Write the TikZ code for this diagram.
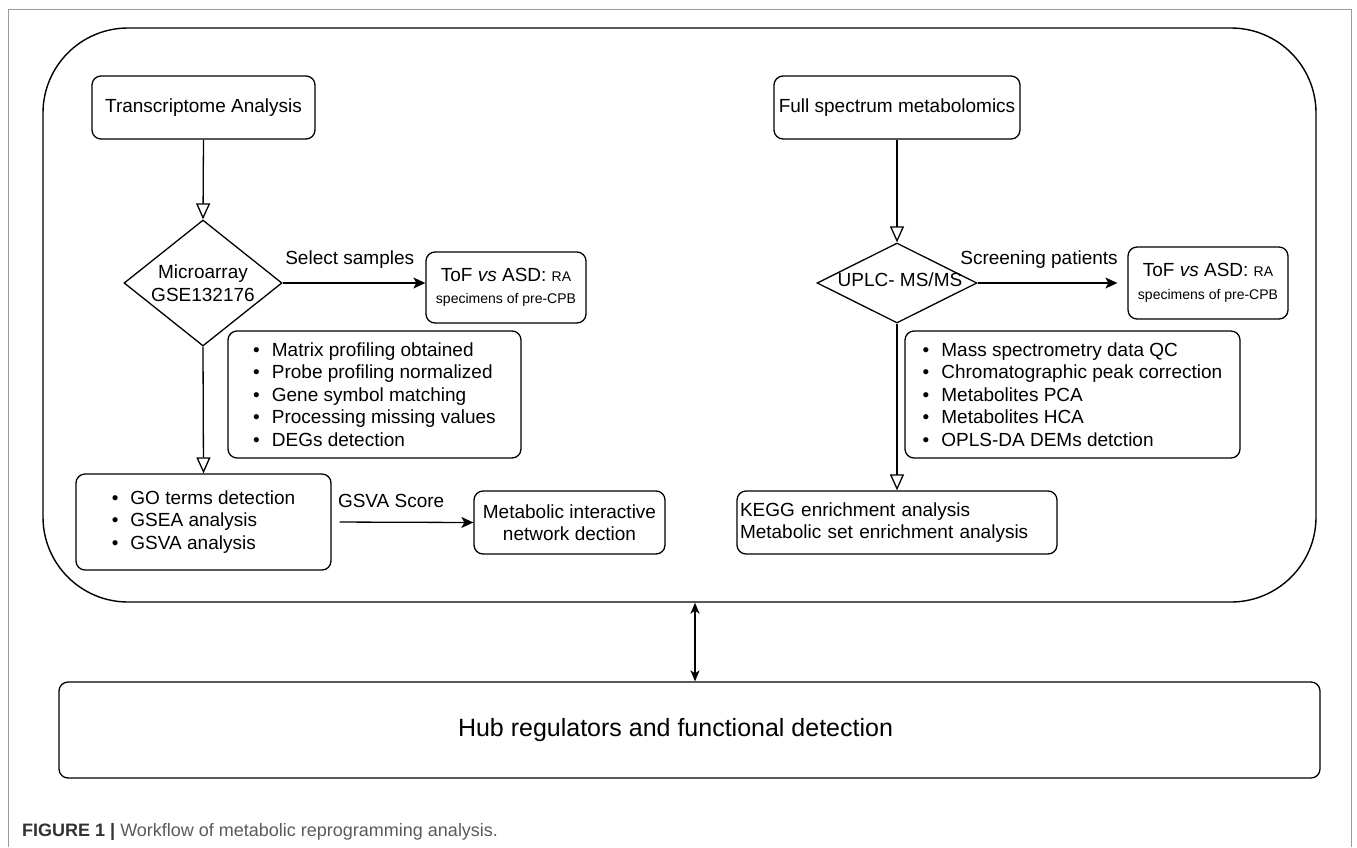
\documentclass[tikz,border=0pt]{standalone}
\usepackage{fontspec}
\setmainfont{Liberation Sans}
\usetikzlibrary{arrows.meta,shapes.geometric}
\definecolor{framegray}{HTML}{9A9A9A}
\definecolor{capdark}{HTML}{333333}
\definecolor{capgray}{HTML}{5A5A5A}
\newcommand{\mainsz}{\fontsize{19}{22.5}\selectfont}
\newcommand{\smallsz}{\fontsize{14}{17}\selectfont}
\newcommand{\itm}{\textbullet\hspace{12pt}}

\begin{document}
\begin{tikzpicture}[x=1pt,y=-1pt,
	box/.style={draw, line width=1.3pt, rounded corners=9pt, inner sep=0pt, align=center, font=\mainsz},
	dia/.style={draw, line width=1.3pt, diamond, inner sep=0pt},
	txt/.style={font=\mainsz, align=center, inner sep=0pt},
	lbl/.style={font=\mainsz, inner sep=2pt, above=12pt},
	flow/.style={line width=1.3pt, -{Triangle[open, length=16pt, width=14pt]}},
	goes/.style={line width=1.3pt, -{Stealth[length=12pt, width=11pt, inset=3pt]}},
	both/.style={line width=1.3pt, {Stealth[length=11pt, width=9pt, inset=3pt]}-{Stealth[length=11pt, width=9pt, inset=3pt]}}]
				\useasboundingbox (0,0) rectangle (1357,847);
				\draw[framegray, line width=1pt] (8,847) -- (8,9) -- (1351,9) -- (1351,847);
				\node[draw, line width=1.4pt, rounded corners=85pt, minimum width=1273pt, minimum height=574pt] (main) at (679.5,315) {};
				\node[box, minimum width=223pt, minimum height=63pt] (trans) at (203.5,107.5) {Transcriptome Analysis};
				\node[dia, minimum width=158pt, minimum height=126pt] (micro) at (203,283) {};
				\node[txt] (microtxt) at (micro) {Microarray\\GSE132176};
				\node[box, minimum width=160pt, minimum height=71pt] (tof1) at (506,287.5) {ToF \textit{vs} ASD: {\smallsz RA}\\{\smallsz specimens of pre-CPB}};
				\node[box, align=left, minimum width=293pt, minimum height=127pt] (prep1) at (374.5,394.5) {\itm Matrix profiling obtained\\\itm Probe profiling normalized\\\itm Gene symbol matching\\\itm Processing missing values\\\itm DEGs detection};
				\node[box, align=left, minimum width=255pt, minimum height=96pt] (go) at (203.5,522) {\itm GO terms detection\\\itm GSEA analysis\\\itm GSVA analysis};
				\node[box, minimum width=191pt, minimum height=63pt] (metnet) at (569.5,522.5) {Metabolic interactive\\network dection};
				\node[box, minimum width=246pt, minimum height=63pt] (full) at (897,107.5) {Full spectrum metabolomics};
				\node[dia, minimum width=160pt, minimum height=80pt] (uplc) at (897,283) {};
				\node[txt] (uplctxt) at (900,280) {UPLC- MS/MS};
				\node[box, minimum width=160pt, minimum height=72pt] (tof2) at (1208,283) {ToF \textit{vs} ASD: {\smallsz RA}\\{\smallsz specimens of pre-CPB}};
				\node[box, align=left, minimum width=335pt, minimum height=127pt] (prep2) at (1072.5,394.5) {\itm Mass spectrometry data QC\\\itm Chromatographic peak correction\\\itm Metabolites PCA\\\itm Metabolites HCA\\\itm OPLS-DA DEMs detction};
				\node[box, align=left, text width=314pt, inner xsep=3pt, minimum height=63pt] (kegg) at (897,522.5) {KEGG enrichment analysis\\Metabolic set enrichment analysis};
				\node[box, minimum width=1261pt, minimum height=96pt, font=\fontsize{25}{30}\selectfont] (hub) at (689.5,730) {\hspace*{-28pt}Hub regulators and functional detection};
				\node[anchor=west, inner sep=0pt, font=\fontsize{18}{22}\selectfont] (caption) at (22,832) {\textcolor{capdark}{\bfseries FIGURE 1 |} \textcolor{capgray}{Workflow of metabolic reprogramming analysis.}};
				\coordinate (link) at (695,0);
				\draw[flow] (trans.south) -- (micro.north);
				\draw[flow] (micro.south) -- (go.north);
				\draw[flow] (full.south) -- (uplc.north);
				\draw[flow] (uplc.south) -- (kegg.north);
				\draw[goes] (micro.east) -- (micro.east -| tof1.west) node[lbl, pos=0.47] (selectlbl) {Select samples};
				\draw[goes, shorten >=10pt] (uplc.east) -- (uplc.east -| tof2.west) node[lbl, pos=0.41] (screenlbl) {Screening patients};
				\draw[goes, shorten <=8pt] (go.east) -- (metnet.west) node[lbl, pos=0.42] (gsvalbl) {GSVA Score};
				\draw[both] (main.south -| link) -- (hub.north -| link);
			\end{tikzpicture}
\end{document}
